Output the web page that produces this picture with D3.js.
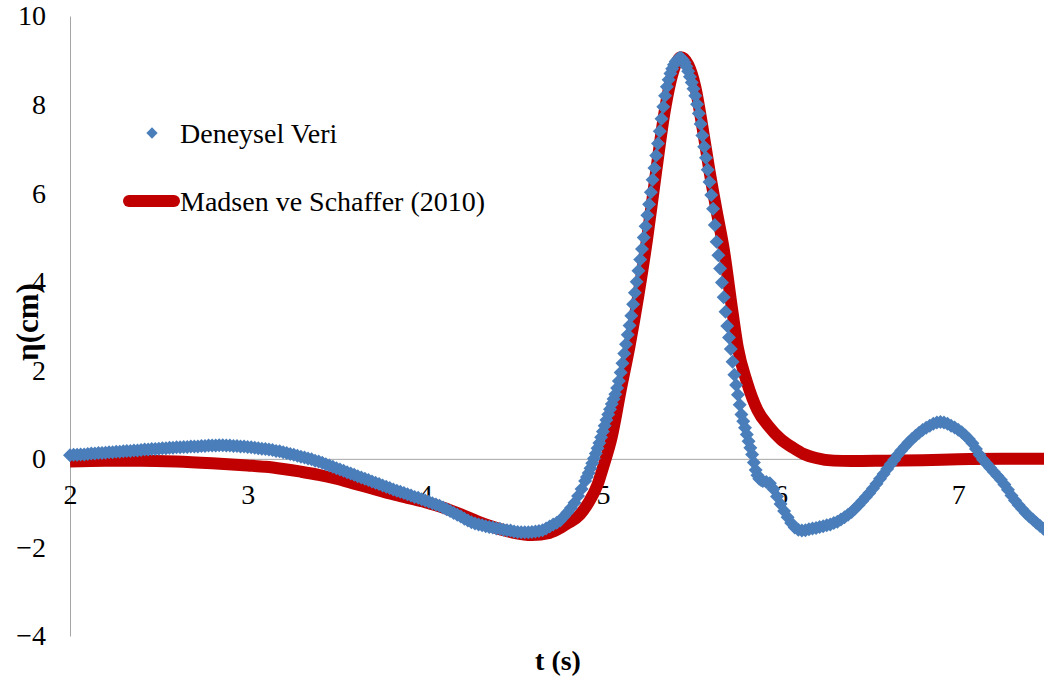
<!DOCTYPE html>
<html>
<head>
<meta charset="utf-8">
<script src="https://cdn.jsdelivr.net/npm/d3@7"></script>
<style>
  html, body { margin: 0; padding: 0; background: #fff; }
  svg { display: block; }
</style>
</head>
<body>
<svg id="chart" width="1044" height="679"></svg>
<script>
// ---- data ----
const xTicks = [2, 3, 4, 5, 6, 7];
const yTicks = [-4, -2, 0, 2, 4, 6, 8, 10];
const seriesNames = ["Deneysel Veri", "Madsen ve Schaffer (2010)"];
const xTitle = "t (s)";
const yTitle = "η(cm)";

// Deneysel Veri: [t (s), η (cm)]
const deneyselVeri = [
[2.00,0.08],[2.02,0.09],[2.04,0.09],[2.06,0.10],[2.08,0.10],[2.10,0.11],[2.12,0.12],[2.14,0.12],[2.16,0.13],[2.18,0.13],
[2.20,0.14],[2.22,0.15],[2.24,0.15],[2.26,0.16],[2.28,0.16],[2.30,0.17],[2.32,0.18],[2.34,0.18],[2.36,0.19],[2.38,0.19],
[2.40,0.20],[2.42,0.21],[2.44,0.21],[2.46,0.22],[2.48,0.22],[2.50,0.23],[2.52,0.24],[2.54,0.24],[2.56,0.25],[2.58,0.25],
[2.60,0.26],[2.62,0.26],[2.64,0.27],[2.66,0.27],[2.68,0.28],[2.70,0.28],[2.72,0.28],[2.74,0.29],[2.76,0.29],[2.78,0.30],
[2.80,0.30],[2.82,0.30],[2.84,0.31],[2.86,0.31],[2.88,0.30],[2.90,0.30],[2.92,0.29],[2.94,0.29],[2.96,0.28],[2.98,0.28],
[3.00,0.27],[3.02,0.26],[3.04,0.25],[3.06,0.24],[3.08,0.23],[3.10,0.22],[3.12,0.21],[3.14,0.20],[3.16,0.18],[3.18,0.17],
[3.20,0.15],[3.22,0.13],[3.24,0.11],[3.26,0.09],[3.28,0.07],[3.30,0.05],[3.32,0.03],[3.34,0.01],[3.36,-0.01],[3.38,-0.04],
[3.40,-0.06],[3.42,-0.09],[3.44,-0.12],[3.46,-0.15],[3.48,-0.18],[3.50,-0.21],[3.52,-0.24],[3.54,-0.27],[3.56,-0.30],[3.58,-0.33],
[3.60,-0.36],[3.62,-0.39],[3.64,-0.42],[3.66,-0.45],[3.68,-0.48],[3.70,-0.51],[3.72,-0.54],[3.74,-0.57],[3.76,-0.60],[3.78,-0.63],
[3.80,-0.66],[3.82,-0.69],[3.84,-0.72],[3.86,-0.74],[3.88,-0.77],[3.90,-0.80],[3.92,-0.83],[3.94,-0.86],[3.96,-0.88],[3.98,-0.91],
[4.00,-0.94],[4.02,-0.97],[4.04,-1.00],[4.06,-1.03],[4.08,-1.06],[4.10,-1.10],[4.12,-1.14],[4.14,-1.18],[4.16,-1.22],[4.18,-1.26],
[4.20,-1.30],[4.22,-1.35],[4.24,-1.39],[4.26,-1.43],[4.28,-1.46],[4.30,-1.48],[4.32,-1.50],[4.34,-1.52],[4.36,-1.54],[4.38,-1.55],
[4.40,-1.57],[4.42,-1.58],[4.44,-1.60],[4.46,-1.61],[4.48,-1.62],[4.50,-1.64],[4.52,-1.65],[4.54,-1.66],[4.56,-1.66],[4.58,-1.66],
[4.60,-1.65],[4.62,-1.64],[4.64,-1.63],[4.66,-1.61],[4.68,-1.57],[4.70,-1.53],[4.72,-1.48],[4.74,-1.44],[4.76,-1.39],[4.78,-1.30],
[4.80,-1.21],[4.82,-1.11],[4.84,-0.99],[4.86,-0.84],[4.88,-0.68],
[4.90,-0.50],[4.91,-0.41],[4.92,-0.32],[4.93,-0.21],[4.94,-0.10],[4.95,0.01],[4.96,0.12],[4.97,0.24],[4.98,0.36],[4.99,0.49],
[5.00,0.62],[5.01,0.75],[5.02,0.88],[5.03,1.00],[5.04,1.12],[5.05,1.24],[5.06,1.35],[5.07,1.46],[5.08,1.60],[5.09,1.76],
[5.10,1.95],[5.11,2.16],[5.12,2.38],[5.13,2.59],[5.14,2.80],[5.15,3.01],[5.16,3.23],[5.17,3.49],[5.18,3.75],[5.19,4.00],
[5.20,4.25],[5.21,4.50],[5.22,4.74],[5.23,5.00],[5.24,5.25],[5.25,5.50],[5.26,5.75],[5.27,6.02],[5.28,6.30],[5.29,6.57],
[5.30,6.85],[5.31,7.12],[5.32,7.40],[5.33,7.68],[5.34,7.95],[5.35,8.20],[5.36,8.40],[5.37,8.56],[5.38,8.70],[5.39,8.81],
[5.40,8.90],[5.41,8.97],[5.42,9.02],[5.43,9.05],[5.44,9.05],[5.45,9.01],[5.46,8.95],[5.47,8.86],[5.48,8.75],[5.49,8.63],
[5.50,8.50],[5.51,8.36],[5.52,8.20],[5.53,8.01],[5.54,7.80],[5.55,7.56],[5.56,7.30],[5.57,7.05],[5.58,6.80],[5.59,6.53],
[5.60,6.25],[5.61,5.96],[5.62,5.65],[5.63,5.28],[5.64,4.90],[5.65,4.60],[5.66,4.30],[5.67,3.98],[5.68,3.65],[5.69,3.32],
[5.70,3.00],[5.71,2.74],[5.72,2.48],[5.73,2.19],[5.74,1.90],[5.75,1.67],[5.76,1.45],[5.77,1.22],[5.78,1.00],[5.79,0.85],
[5.80,0.70],[5.81,0.55],[5.82,0.40],[5.83,0.25],[5.84,0.10],[5.85,-0.08],[5.86,-0.25],[5.87,-0.37],[5.88,-0.45],[5.89,-0.48],
[5.90,-0.50],
[5.92,-0.52],[5.94,-0.55],[5.96,-0.68],[5.98,-0.85],[6.00,-1.02],[6.02,-1.18],[6.04,-1.32],[6.06,-1.45],[6.08,-1.55],
[6.10,-1.60],[6.12,-1.62],[6.14,-1.61],[6.16,-1.59],[6.18,-1.57],[6.20,-1.56],[6.22,-1.54],[6.24,-1.52],[6.26,-1.50],[6.28,-1.48],
[6.30,-1.45],[6.32,-1.42],[6.34,-1.37],[6.36,-1.32],[6.38,-1.26],[6.40,-1.20],[6.42,-1.12],[6.44,-1.04],[6.46,-0.95],[6.48,-0.86],
[6.50,-0.77],[6.52,-0.67],[6.54,-0.56],[6.56,-0.45],[6.58,-0.34],[6.60,-0.23],[6.62,-0.12],[6.64,-0.02],[6.66,0.09],[6.68,0.19],
[6.70,0.28],[6.72,0.37],[6.74,0.45],[6.76,0.52],[6.78,0.59],[6.80,0.65],[6.82,0.70],[6.84,0.75],[6.86,0.79],[6.88,0.82],
[6.90,0.83],[6.92,0.82],[6.94,0.79],[6.96,0.75],[6.98,0.71],[7.00,0.66],[7.02,0.60],[7.04,0.53],[7.06,0.45],[7.08,0.35],
[7.10,0.22],[7.12,0.09],[7.14,-0.02],[7.16,-0.11],[7.18,-0.20],[7.20,-0.29],[7.22,-0.38],[7.24,-0.47],[7.26,-0.58],[7.28,-0.70],
[7.30,-0.83],[7.32,-0.94],[7.34,-1.04],[7.36,-1.13],[7.38,-1.22],[7.40,-1.30],[7.42,-1.37],[7.44,-1.44],[7.46,-1.51],[7.48,-1.58]
];

// Madsen ve Schaffer (2010): [t (s), η (cm)]
const madsenSchaffer = [
[2.00,-0.06],[2.20,-0.04],[2.40,-0.04],[2.60,-0.06],[2.80,-0.10],[3.00,-0.15],[3.10,-0.18],[3.20,-0.23],[3.30,-0.29],[3.40,-0.36],
[3.50,-0.45],[3.60,-0.56],[3.70,-0.67],[3.80,-0.78],[3.90,-0.88],[4.00,-0.98],[4.10,-1.10],[4.20,-1.25],[4.30,-1.42],[4.40,-1.56],
[4.50,-1.67],[4.60,-1.72],[4.70,-1.67],[4.76,-1.56],[4.80,-1.46],[4.87,-1.26],[4.92,-0.98],[4.97,-0.58],[5.00,-0.20],[5.05,0.50],
[5.10,1.55],[5.15,2.55],[5.20,3.70],[5.25,5.00],[5.30,6.50],[5.35,7.90],[5.40,8.80],[5.44,9.07],[5.48,8.90],[5.52,8.40],
[5.56,7.50],[5.60,6.50],[5.64,5.60],[5.68,4.74],[5.73,3.30],[5.76,2.50],[5.81,1.74],[5.87,1.10],[5.93,0.75],[6.00,0.45],
[6.07,0.25],[6.13,0.11],[6.20,0.02],[6.30,-0.04],[6.40,-0.05],[6.60,-0.04],[6.80,-0.03],[7.00,-0.01],[7.25,0.00],[7.50,0.00]
];

// ---- chart ----
const FONT = "'Liberation Serif', 'Times New Roman', Tinos, 'DejaVu Serif', serif";
const svg = d3.select("#chart").attr("font-family", FONT);
const x = d3.scaleLinear().domain([2, 7.5]).range([70, 1047]);
const y = d3.scaleLinear().domain([-4, 10]).range([636, 16]);
const gray = "#A6A6A6";
const blue = "#4A7EBB";
const red = "#C00000";

// y axis
const yAxis = svg.append("g")
  .attr("transform", `translate(${x(2)},0)`)
  .call(d3.axisLeft(y).tickValues(yTicks).tickSize(0).tickPadding(24).tickFormat(d3.format("d")));
yAxis.attr("font-family", FONT).attr("font-size", 28);
yAxis.select(".domain").attr("stroke", gray).attr("stroke-width", 1);
yAxis.selectAll("text").attr("fill", "#000");

// x axis at y = 0
const xAxis = svg.append("g")
  .attr("transform", `translate(0,${y(0)})`)
  .call(d3.axisBottom(x).tickValues(xTicks).tickSize(0).tickPadding(25).tickFormat(d3.format("d")));
xAxis.attr("font-family", FONT).attr("font-size", 28);
xAxis.select(".domain").attr("stroke", gray).attr("stroke-width", 1);
xAxis.selectAll("text").attr("fill", "#000");

// Madsen line
const line = d3.line().x(d => x(d[0])).y(d => y(d[1])).curve(d3.curveMonotoneX);
svg.append("path")
  .datum(madsenSchaffer)
  .attr("d", line)
  .attr("fill", "none")
  .attr("stroke", red)
  .attr("stroke-width", 12)
  .attr("stroke-linejoin", "round");

// Experimental diamonds
const diamond = d3.symbol().type(d3.symbolSquare).size(98);
svg.append("g").selectAll("path")
  .data(deneyselVeri)
  .join("path")
  .attr("d", diamond)
  .attr("transform", d => `translate(${x(d[0])},${y(d[1])}) rotate(45)`)
  .attr("fill", blue);

// legend
const lg = svg.append("g").attr("font-family", FONT).attr("font-size", 28);
lg.append("path")
  .attr("d", d3.symbol().type(d3.symbolSquare).size(64))
  .attr("transform", "translate(152,133) rotate(45)")
  .attr("fill", blue);
lg.append("text").attr("x", 180).attr("y", 143).text(seriesNames[0]);
lg.append("line").attr("x1", 129).attr("x2", 174).attr("y1", 201).attr("y2", 201)
  .attr("stroke", red).attr("stroke-width", 12).attr("stroke-linecap", "round");
lg.append("text").attr("x", 180).attr("y", 211).text(seriesNames[1]);

// axis titles
svg.append("text")
  .attr("x", 558).attr("y", 670)
  .attr("text-anchor", "middle")
  .attr("font-size", 28).attr("font-weight", "bold")
  .text(xTitle);
svg.append("text")
  .attr("transform", "translate(38,322) rotate(-90)")
  .attr("text-anchor", "middle")
  .attr("font-size", 31).attr("font-weight", "bold")
  .text(yTitle);
</script>
</body>
</html>
